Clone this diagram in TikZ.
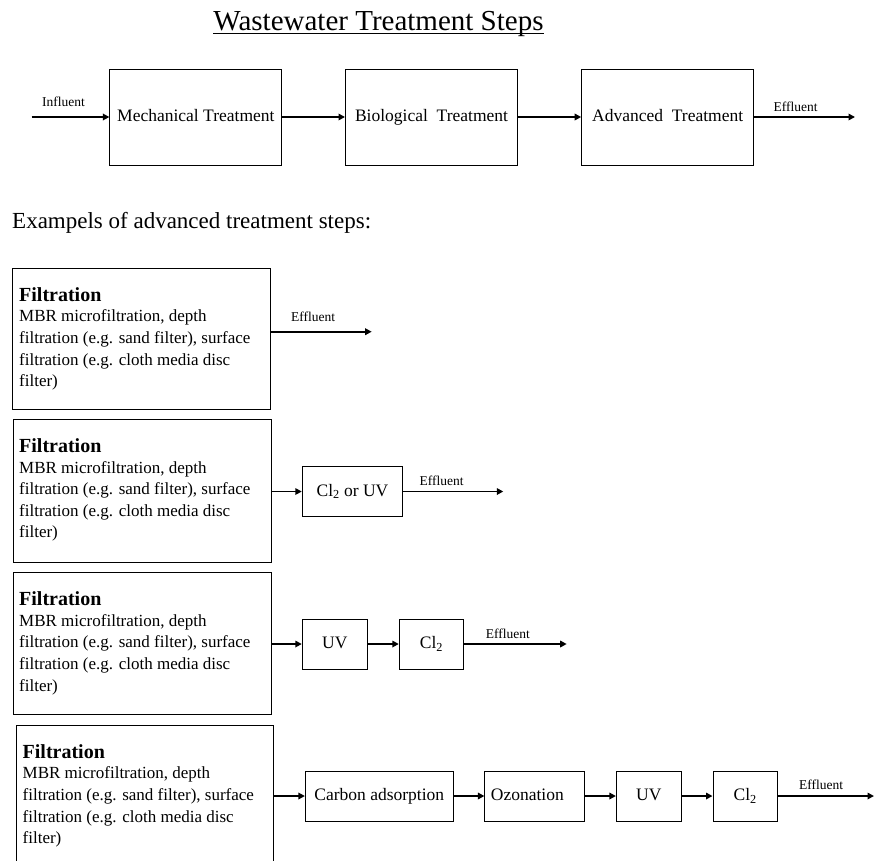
\documentclass[tikz,border=0pt]{standalone}
\usepackage{fontspec}
\setmainfont{Liberation Serif}
\usetikzlibrary{arrows.meta}
\begin{document}
\begin{tikzpicture}[x=1pt,y=-1pt,
  stage/.style={draw=black,line width=1pt,inner sep=0pt,minimum height=96pt,minimum width=172pt,text height=13pt,text depth=3.6pt,font=\fontsize{17.5}{21}\selectfont},
  unit/.style={draw=black,line width=1pt,inner sep=0pt,minimum height=50pt,text height=13pt,text depth=3.6pt,font=\fontsize{17.5}{21}\selectfont},
  filterbox/.style={draw=black,line width=1pt,inner sep=0pt,minimum width=258pt},
  flow/.style={line width=1.7pt,-{Triangle[length=6.5pt,width=6.5pt]}},
  tag/.style={anchor=base,inner sep=0pt,font=\fontsize{13.5}{16}\selectfont},
  head/.style={anchor=base west,inner sep=0pt,font=\fontsize{20}{24}\selectfont\bfseries},
  body/.style={anchor=base west,inner sep=0pt,align=left,font=\fontsize{17}{21.65}\selectfont},
]
\useasboundingbox (0,0) rectangle (874,860);

% title with a hand-drawn underline that the descender crosses
\node[anchor=base,inner sep=0pt,font=\fontsize{29}{33}\selectfont] (title) at (378.5,30.5) {Wastewater Treatment Steps};
\draw[line width=0.8pt] ([yshift=-3pt]title.base west) -- ([yshift=-3pt]title.base east);

% main treatment chain
\node[stage] (mech) at (195.85,117) {Mechanical Treatment};
\node[stage] (bio) at (431.5,117) {Biological\ \ Treatment};
\node[stage] (adv) at (667.7,117) {Advanced\ \ Treatment};
\coordinate (in) at (31.7,117);
\coordinate (out) at (855,117);
\draw[flow] (in) -- (mech);
\draw[flow] (mech) -- (bio);
\draw[flow] (bio) -- (adv);
\draw[flow] (adv) -- (out);
\node[tag] (tin) at (63.5,106.7) {Influent};
\node[tag] (tout) at (795.5,111) {Effluent};

\node[anchor=base west,inner sep=0pt,font=\fontsize{23}{27}\selectfont] (ex) at (12,228.3) {Exampels of advanced treatment steps:};

% filtration description, reused in every example
% (the base anchor of the multi-line body sits on its last line)
\newcommand{\filtertext}[2]{%
  \node[head] at (#1,#2) {Filtration};
  \node[body] at (#1,#2+85.65) {MBR microfiltration, depth\\filtration (e.g. sand filter), surface\\filtration (e.g. cloth media disc\\filter)};}

% example 1: filtration only
\node[filterbox,minimum height=141pt] (f1) at (141.85,338.5) {};
\filtertext{19}{301}
\coordinate (e1) at (371.7,331.7);
\draw[flow] (f1.east |- e1) -- (e1);
\node[tag] (t1) at (313,321.7) {Effluent};

% example 2: filtration + disinfection
\node[filterbox,minimum height=143pt] (f2) at (142,490.8) {};
\filtertext{19}{452.3}
\node[unit,minimum width=100.4pt] (c2) at (352.5,491.5) {Cl\textsubscript{2} or UV};
\coordinate (e2) at (503.3,491.5);
\draw[flow] (f2.east |- c2) -- (c2);
\draw[flow] (c2) -- (e2);
\node[tag] (t2) at (441.7,485.5) {Effluent};

% example 3: filtration + UV + chlorination
\node[filterbox,minimum height=141.5pt] (f3) at (142,643.25) {};
\filtertext{19}{605.5}
\node[unit,minimum width=65pt] (u3) at (334.8,644) {UV};
\node[unit,minimum width=64.4pt] (c3) at (431.5,644) {Cl\textsubscript{2}};
\coordinate (e3) at (566.7,644);
\draw[flow] (f3.east |- u3) -- (u3);
\draw[flow] (u3) -- (c3);
\draw[flow] (c3) -- (e3);
\node[tag] (t3) at (507.8,638.5) {Effluent};

% example 4: full advanced chain (box runs off the bottom edge)
\node[filterbox,minimum height=160pt,minimum width=256.5pt] (f4) at (144.75,805) {};
\filtertext{22.5}{758}
\node[unit,minimum width=147.7pt] (carb) at (379.25,796) {Carbon adsorption};
\node[unit,text width=87.6pt,align=left,inner xsep=6pt] (oz) at (534.7,796) {Ozonation};
\node[unit,minimum width=64.7pt] (u4) at (648.75,796) {UV};
\node[unit,minimum width=64.3pt] (c4) at (745.15,796) {Cl\textsubscript{2}};
\coordinate (e4) at (874,796);
\draw[flow] (f4.east |- carb) -- (carb);
\draw[flow] (carb) -- (oz);
\draw[flow] (oz) -- (u4);
\draw[flow] (u4) -- (c4);
\draw[flow] (c4) -- (e4);
\node[tag] (t4) at (821,789) {Effluent};
\end{tikzpicture}
\end{document}
